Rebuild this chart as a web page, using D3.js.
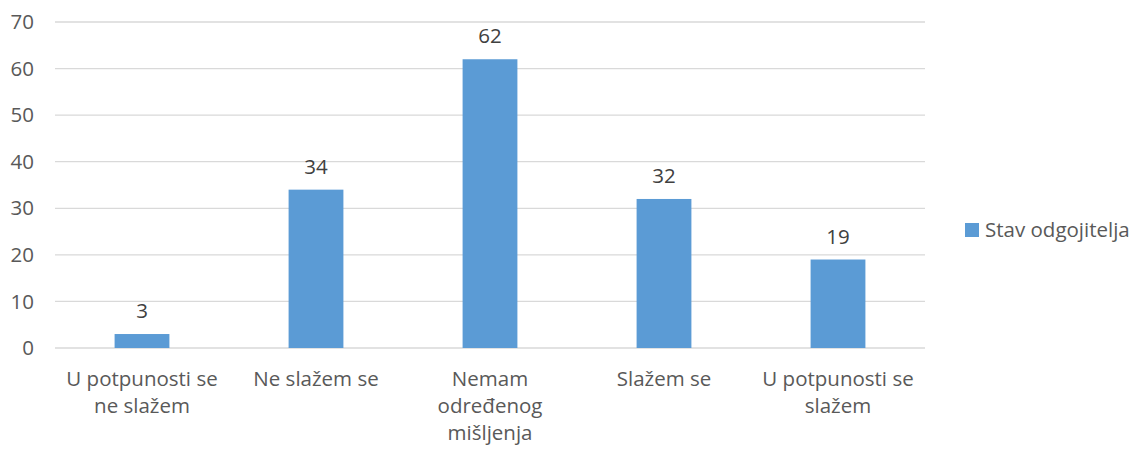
<!DOCTYPE html>
<html>
<head>
<meta charset="utf-8">
<script src="https://cdn.jsdelivr.net/npm/d3@7"></script>
<style>
  body { margin: 0; background: #fff; }
  svg { font-family: "Open Sans", "Noto Sans", sans-serif; }
  .grid line { stroke: #d9d9d9; stroke-width: 1.3; }
  .tick-label { fill: #595959; font-size: 20.5px; }
  .value-label { fill: #404040; font-size: 20.5px; }
</style>
</head>
<body>
<svg id="chart" width="1135" height="449"></svg>
<script>
const categories = [
  "U potpunosti se ne slažem",
  "Ne slažem se",
  "Nemam određenog mišljenja",
  "Slažem se",
  "U potpunosti se slažem"
];
const categoryLines = [
  ["U potpunosti se", "ne slažem"],
  ["Ne slažem se"],
  ["Nemam", "određenog", "mišljenja"],
  ["Slažem se"],
  ["U potpunosti se", "slažem"]
];
const values = [3, 34, 62, 32, 19];
const yTicks = [0, 10, 20, 30, 40, 50, 60, 70];
const seriesName = "Stav odgojitelja";
const barColor = "#5b9bd5";

const svg = d3.select("#chart");
const margin = { left: 55, right: 210, top: 22, bottom: 101 };
const width = 1135 - margin.left - margin.right;
const height = 449 - margin.top - margin.bottom;

const x = d3.scaleBand()
  .domain(categories)
  .range([margin.left, margin.left + width])
  .paddingInner(0.685)
  .paddingOuter(0.3425);

const y = d3.scaleLinear()
  .domain([0, 70])
  .range([margin.top + height, margin.top]);

// gridlines
svg.append("g")
  .attr("class", "grid")
  .selectAll("line")
  .data(yTicks)
  .join("line")
  .attr("x1", margin.left)
  .attr("x2", margin.left + width)
  .attr("y1", d => y(d))
  .attr("y2", d => y(d));

// y axis labels
svg.append("g")
  .selectAll("text")
  .data(yTicks)
  .join("text")
  .attr("class", "tick-label")
  .attr("x", 34)
  .attr("y", d => y(d))
  .attr("dy", "0.35em")
  .attr("text-anchor", "end")
  .text(d => d);

// bars
svg.append("g")
  .selectAll("rect")
  .data(values)
  .join("rect")
  .attr("x", (d, i) => x(categories[i]))
  .attr("width", x.bandwidth())
  .attr("y", d => y(d))
  .attr("height", d => y(0) - y(d))
  .attr("fill", barColor);

// value labels
svg.append("g")
  .selectAll("text")
  .data(values)
  .join("text")
  .attr("class", "value-label")
  .attr("x", (d, i) => x(categories[i]) + x.bandwidth() / 2)
  .attr("y", d => y(d) - 16)
  .attr("text-anchor", "middle")
  .text(d => d);

// category labels
const catGroup = svg.append("g")
  .selectAll("text")
  .data(categoryLines)
  .join("text")
  .attr("class", "tick-label")
  .attr("text-anchor", "middle")
  .attr("x", (d, i) => x(categories[i]) + x.bandwidth() / 2)
  .attr("y", y(0) + 38);

catGroup.selectAll("tspan")
  .data(d => d)
  .join("tspan")
  .attr("x", function() { return this.parentNode.getAttribute("x"); })
  .attr("dy", (d, i) => i === 0 ? 0 : 27)
  .text(d => d);

// legend
const legend = svg.append("g").attr("transform", "translate(965,223)");
legend.append("rect")
  .attr("width", 14)
  .attr("height", 14)
  .attr("fill", barColor);
legend.append("text")
  .attr("class", "tick-label")
  .attr("x", 20)
  .attr("y", 14)
  .text(seriesName);
</script>
</body>
</html>
